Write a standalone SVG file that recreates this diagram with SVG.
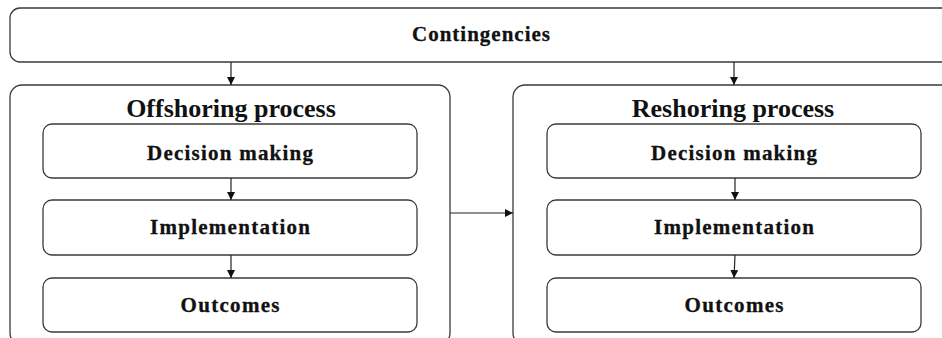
<svg xmlns="http://www.w3.org/2000/svg" width="942" height="338" viewBox="0 0 942 338">
  <defs>
    <marker id="arrow" viewBox="0 0 10 10" refX="10" refY="5" markerWidth="8" markerHeight="8" markerUnits="userSpaceOnUse" orient="auto">
      <path d="M0,0 L10,5 L0,10 z" fill="#111"/>
    </marker>
  </defs>
  <style>
    .box { fill: #ffffff; stroke: #3a3a3a; stroke-width: 1.3; }
    .lbl { font-family: "Liberation Serif", "Times New Roman", serif; font-weight: bold; font-size: 21px; fill: #111; stroke: #111; stroke-width: 0.3; text-anchor: middle; }
    .title { font-family: "Liberation Serif", "Times New Roman", serif; font-weight: bold; font-size: 26px; fill: #111; text-anchor: middle; }
    .conn { stroke: #222; stroke-width: 1.2; fill: none; marker-end: url(#arrow); }
  </style>

  <rect width="942" height="338" fill="#ffffff"/>

  <g id="contingencies">
    <rect class="box" x="10" y="8" width="942" height="54" rx="10" ry="10"/>
    <text class="lbl" x="481" y="41" textLength="138" lengthAdjust="spacing">Contingencies</text>
  </g>

  <g id="offshoring-process">
    <rect class="box" x="10" y="85" width="440" height="260" rx="12" ry="12"/>
    <text class="title" x="231" y="117">Offshoring process</text>
  </g>

  <g id="offshoring-decision">
    <rect class="box" x="43" y="124" width="374" height="54" rx="9" ry="9"/>
    <text class="lbl" x="230" y="160" textLength="166" lengthAdjust="spacing">Decision making</text>
  </g>

  <g id="offshoring-implementation">
    <rect class="box" x="43" y="200" width="374" height="55" rx="9" ry="9"/>
    <text class="lbl" x="230" y="234" textLength="160" lengthAdjust="spacing">Implementation</text>
  </g>

  <g id="offshoring-outcomes">
    <rect class="box" x="43" y="278" width="374" height="54" rx="9" ry="9"/>
    <text class="lbl" x="230" y="312" textLength="99" lengthAdjust="spacing">Outcomes</text>
  </g>

  <g id="reshoring-process">
    <rect class="box" x="513" y="85" width="460" height="260" rx="12" ry="12"/>
    <text class="title" x="733" y="117">Reshoring process</text>
  </g>

  <g id="reshoring-decision">
    <rect class="box" x="547" y="124" width="374" height="54" rx="9" ry="9"/>
    <text class="lbl" x="734" y="160" textLength="166" lengthAdjust="spacing">Decision making</text>
  </g>

  <g id="reshoring-implementation">
    <rect class="box" x="547" y="200" width="374" height="55" rx="9" ry="9"/>
    <text class="lbl" x="734" y="234" textLength="160" lengthAdjust="spacing">Implementation</text>
  </g>

  <g id="reshoring-outcomes">
    <rect class="box" x="547" y="278" width="374" height="54" rx="9" ry="9"/>
    <text class="lbl" x="734" y="312" textLength="99" lengthAdjust="spacing">Outcomes</text>
  </g>

  <g id="connectors">
    <line class="conn" x1="231" y1="62" x2="231" y2="85"/>
    <line class="conn" x1="734" y1="62" x2="734" y2="85"/>
    <line class="conn" x1="231" y1="178" x2="231" y2="200"/>
    <line class="conn" x1="231" y1="255" x2="231" y2="278"/>
    <line class="conn" x1="735" y1="178" x2="735" y2="200"/>
    <line class="conn" x1="735" y1="255" x2="734" y2="278"/>
    <line class="conn" x1="450" y1="213" x2="513" y2="213"/>
  </g>
</svg>
